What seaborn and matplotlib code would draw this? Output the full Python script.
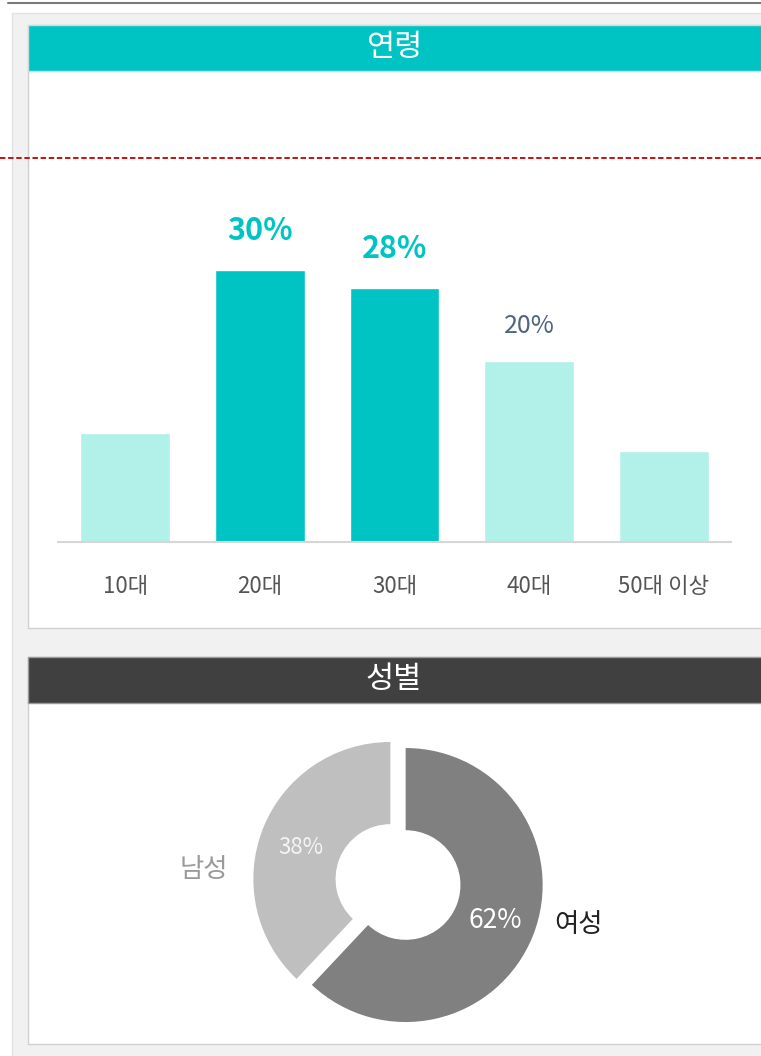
import matplotlib
matplotlib.use('Agg')
import matplotlib.pyplot as plt
from matplotlib.patches import Rectangle
from matplotlib.lines import Line2D
import seaborn as sns

# data
ages = ['10대', '20대', '30대', '40대', '50대 이상']
age_share = [12, 30, 28, 20, 10]
age_colors = ['#b2f0ea', '#00c4c4', '#00c4c4', '#b2f0ea', '#b2f0ea']
age_label_style = [None, 'bold', 'bold', 'light', None]

genders = ['여성', '남성']
gender_share = [62, 38]
gender_colors = ['#808080', '#bfbfbf']

sns.set_theme(style='white')
plt.rcParams['font.family'] = ['Noto Sans CJK KR', 'DejaVu Sans']

W, H = 761, 1056
fig = plt.figure(figsize=(W / 100, H / 100), dpi=100, facecolor='white')


def frac(x, y, w, h):
    # pixel box (top-left origin) -> figure fraction
    return [x / W, 1 - (y + h) / H, w / W, h / H]


def box(x, y, w, h, fc, ec='none', lw=0, z=-5):
    r = Rectangle(frac(x, y, w, h)[:2], w / W, h / H, transform=fig.transFigure,
                  facecolor=fc, edgecolor=ec, linewidth=lw, zorder=z)
    fig.add_artist(r)


# page background
fig.add_artist(Line2D([8 / W, 1], [1 - 3 / H, 1 - 3 / H], transform=fig.transFigure,
                      color='#7a7a7a', lw=1.5, zorder=-4))
box(12, 13, 760, 1050, '#f1f1f1', ec='#e2e2e2', lw=1, z=-6)

# card 1 - age
box(28, 25, 740, 603, 'white', ec='#d0d0d0', lw=1)
box(28, 25, 740, 46, '#00c4c4', ec='#c8dede', lw=1, z=-4)
fig.text(394 / W, 1 - 48 / H, '연령', color='white', fontsize=22, fontweight='light',
         ha='center', va='center')

# card 2 - gender
box(28, 657, 740, 387, 'white', ec='#d0d0d0', lw=1)
box(28, 657, 740, 46, '#404040', ec='#9a9a9a', lw=1, z=-4)
fig.text(394 / W, 1 - 680 / H, '성별', color='white', fontsize=22, fontweight='light',
         ha='center', va='center')

# red dashed guide
fig.add_artist(Line2D([0, 1], [1 - 158 / H, 1 - 158 / H], transform=fig.transFigure,
                      color='#c00000', lw=1.3, ls=(0, (3, 1.5)), zorder=5))

# bar chart
ax1 = fig.add_axes(frac(58, 160, 673, 382))
ax1.set_facecolor('none')
sns.barplot(x=ages, y=age_share, hue=ages, palette=age_colors, width=0.668,
            saturation=1, legend=False, ax=ax1)
ax1.set_xlim(-0.5, 4.5)
ax1.set_ylim(0, 382 / 9.07)
for s in ['top', 'left', 'right']:
    ax1.spines[s].set_visible(False)
ax1.spines['bottom'].set_color('#d6d6d6')
ax1.spines['bottom'].set_linewidth(1.5)
ax1.set_yticks([])
ax1.set_xticks(range(len(ages)))
ax1.set_xticklabels(ages)
ax1.tick_params(axis='x', length=0, pad=24, labelsize=16, labelcolor='#555555')
ax1.set_xlabel('')
ax1.set_ylabel('')

for i, (v, style) in enumerate(zip(age_share, age_label_style)):
    if style == 'bold':
        ax1.annotate(f'{v}%', (i, v), xytext=(0, 28), textcoords='offset points',
                     ha='center', va='center', fontsize=22, fontweight='bold',
                     color='#00c4c4')
    elif style == 'light':
        ax1.annotate(f'{v}%', (i, v), xytext=(0, 25), textcoords='offset points',
                     ha='center', va='center', fontsize=18, fontweight='light',
                     color='#4f6580')

# donut chart
R = 137
side = 2.4 * R
ax2 = fig.add_axes(frac(398 - side / 2, 882 - side / 2, side, side))
wedges, texts, autotexts = ax2.pie(
    gender_share, labels=genders, colors=gender_colors, startangle=90,
    counterclock=False, explode=[0.06, 0.06], pctdistance=0.70,
    autopct=lambda p: f'{p:.0f}%',
    wedgeprops=dict(width=0.60, linewidth=0))
ax2.set_xlim(-1.2, 1.2)
ax2.set_ylim(-1.2, 1.2)
ax2.set_aspect('equal')
ax2.axis('off')

texts[0].set_position((1.32, -0.31))
texts[0].set(color='#222222', fontsize=19, fontweight='light', ha='center', va='center')
texts[1].set_position((-1.42, 0.09))
texts[1].set(color='#9a9a9a', fontsize=19, fontweight='light', ha='center', va='center')
autotexts[0].set(color='white', fontsize=19, fontweight='light')
autotexts[1].set(color='#f4f4f4', fontsize=16, fontweight='light')
autotexts[1].set_position((autotexts[1].get_position()[0],
                           autotexts[1].get_position()[1] - 0.03))

fig.savefig('out.png', dpi=100, facecolor='white')
